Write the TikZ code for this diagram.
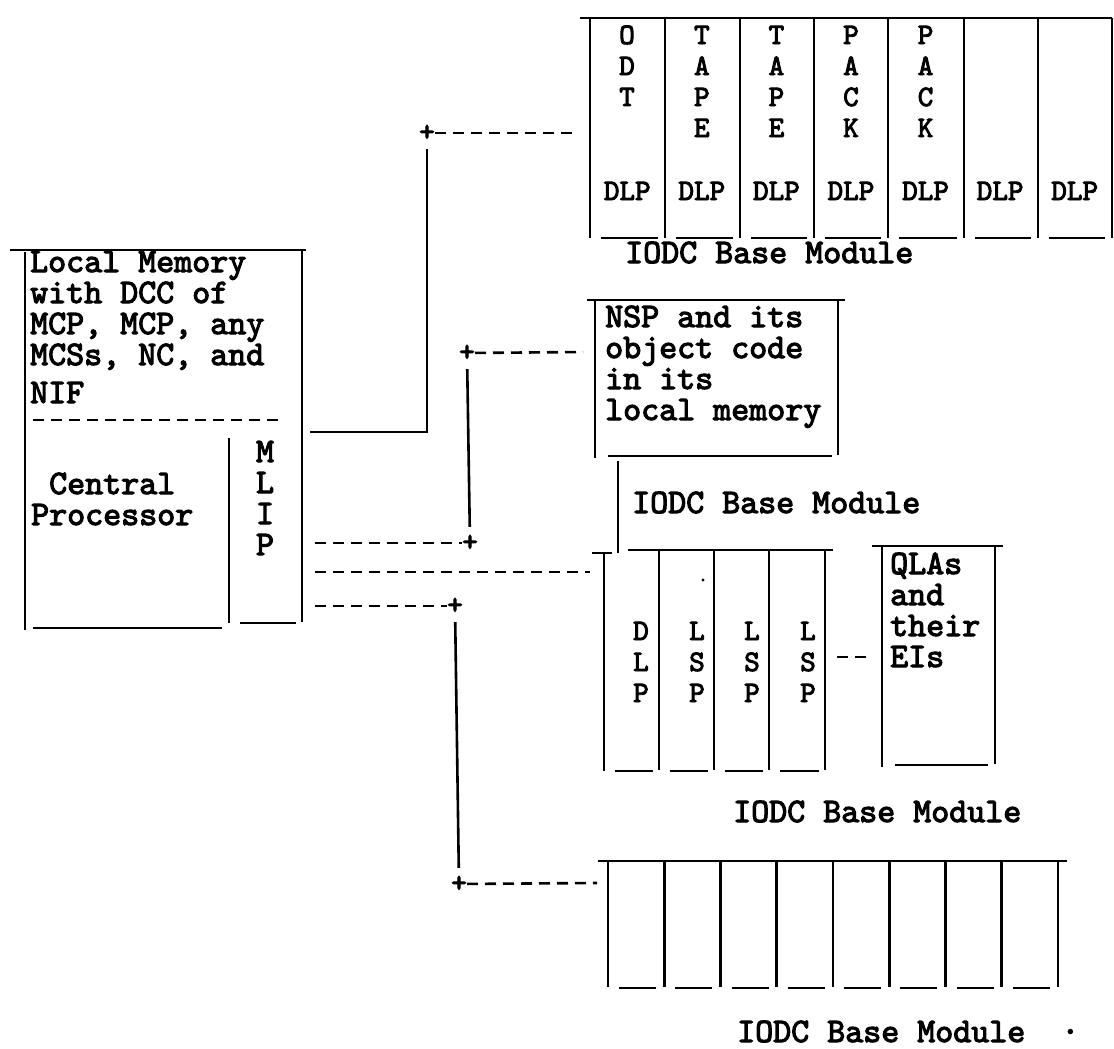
\documentclass[tikz,border=0pt]{standalone}
\usepackage{fontspec}
\newfontfamily\twfamily{lmmono10-regular.otf}[FakeBold=3.2]
\usepackage{tikz}
\usetikzlibrary{positioning,calc}
\newcommand{\twfont}[1]{\twfamily\fontsize{#1}{31}\selectfont}

\begin{document}
\begin{tikzpicture}[x=1pt, y=-1pt,
  wire/.style={line width=2.6pt},
  dashline/.style={line width=2.6pt, dash pattern=on 11pt off 7pt},
  txt/.style={font=\twfont{34.3}, inner sep=0pt, anchor=base west, align=left},
  slot/.style={font=\twfont{29.7}, inner sep=0pt, anchor=base, align=center},
  junction/.style={font=\twfont{29.7}, inner xsep=0pt, inner ysep=8pt}]
  \useasboundingbox (0,0) rectangle (1114,1049);
  % central processor with local memory
  \draw[wire] (10,250) -- (306,250);
  \draw[wire] (25,252) -- (25,630);
  \draw[wire] (302,250) -- (302,622);
  \draw[dashline] (33,420) -- (285,420);
  \draw[wire] (229,438) -- (229,623);
  \draw[wire] (33,628) -- (222,628);
  \draw[wire] (240,623) -- (296,623);
  % (base of a multi-line node = its last line)
  \node[txt] (mem) at (30,403) {Local Memory\\with DCC of\\MCP, MCP, any\\MCSs, NC, and\\[7pt]NIF};
  \node[txt] (cpu) at (31,525) {\hphantom{P}Central\\Processor};
  \node[slot, font=\twfont{34.3}] (mlip) at (265,555) {M\\L\\I\\P};
  \coordinate (cp-a) at (310,432);
  \coordinate (cp-b) at (315,543);
  \coordinate (cp-c) at (315,572);
  \coordinate (cp-d) at (315,606);
  % top base module
  \draw[wire] (580,18) -- (1112,18);
  \foreach \x in {590,665,740,814,888,964,1038,1112}
    \draw[wire] (\x,18) -- (\x,238);
  \foreach \x [remember=\x as \lastx (initially 590)] in {665,740,814,888,964,1038,1112}
    \draw[wire] (\lastx+11,238) -- (\x-7,238);
  \node[slot] (dev1) at (627,106) {O\\D\\T};
  \foreach \t [count=\i from 2] in {T\\A\\P\\E, T\\A\\P\\E, P\\A\\C\\K, P\\A\\C\\K}
    \node[slot] (dev\i) at ({590+74.57*(\i-0.5)},137) {\t};
  \foreach \i in {1,...,7}
    \node[slot] (dlp\i) at ({590+74.57*(\i-0.5)},200) {DLP};
  \node[txt] (iodc1) at (625,263) {IODC Base Module};
  \coordinate (dlp-in) at (577,133);
  % network support processor
  \draw[wire] (587,300) -- (845,300);
  \draw[wire] (595,300) -- (595,458);
  \draw[wire] (838,300) -- (838,455);
  \draw[wire] (608,456) -- (832,456);
  \node[txt] (nsp) at (605,420) {NSP and its\\object code\\in its\\local memory};
  \coordinate (nsp-in) at (583,352);
  \draw[wire] (618,461) -- (618,553);
  \node[txt] (iodc2) at (632,513) {IODC Base Module};
  % line support processors
  \draw[wire] (592,553) -- (612,553);
  \draw[wire] (628,550) -- (833,550);
  \draw[wire] (604,553) -- (604,771);
  \foreach \x in {659,714,769,825}
    \draw[wire] (\x,550) -- (\x,770);
  \foreach \x [remember=\x as \lastx (initially 604)] in {659,714,769,825}
    \draw[wire] (\lastx+11,771) -- (\x-6,771);
  \node[slot] (dlp8) at (641,702) {D\\L\\P};
  \foreach \x [count=\i] in {697,752,808}
    \node[slot] (lsp\i) at (\x,702) {L\\S\\P};
  \fill (703,580) circle (1.6);
  \coordinate (lsp-in) at (590,572);
  \coordinate (lsp-out) at (837,657);
  % quad line adapters
  \draw[wire] (872,546) -- (1003,546);
  \draw[wire] (882,546) -- (882,767);
  \draw[wire] (995,546) -- (995,764);
  \draw[wire] (895,765) -- (988,765);
  \node[txt] (qla) at (890,667) {QLAs\\and\\their\\EIs};
  \coordinate (qla-in) at (873,657);
  \node[txt] (iodc3) at (733,822) {IODC Base Module};
  % empty base module
  \draw[wire] (598,861) -- (1067,861);
  \foreach \k in {0,...,8}
    \draw[wire] ({608+56.25*\k},861) -- ({608+56.25*\k},987);
  \foreach \k in {0,...,7}
    \draw[wire] ({619+56.25*\k},988) -- ({656+56.25*\k},988);
  \node[txt] (iodc4) at (737,1042) {IODC Base Module~~·};
  \coordinate (bot-in) at (597,883);
  % connections
  \node[junction] (j1) at (427,133) {+};
  \node[junction] (j2) at (467,353) {+};
  \node[junction] (j3) at (470,543) {+};
  \node[junction] (j4) at (455,606) {+};
  \node[junction] (j5) at (459,884) {+};
  \draw[dashline] (j1) -- (dlp-in);
  \draw[wire] (j1) |- (cp-a);
  \draw[dashline] (j2) -- (nsp-in);
  \draw[wire] (j2) -- (j3);
  \draw[dashline] (cp-b) -- (j3);
  \draw[dashline] (cp-c) -- (lsp-in);
  \draw[dashline] (cp-d) -- (j4);
  \draw[wire] (j4) -- (j5);
  \draw[dashline] (j5) -- (bot-in);
  \draw[dashline] (lsp-out) -- (qla-in);
\end{tikzpicture}
\end{document}
